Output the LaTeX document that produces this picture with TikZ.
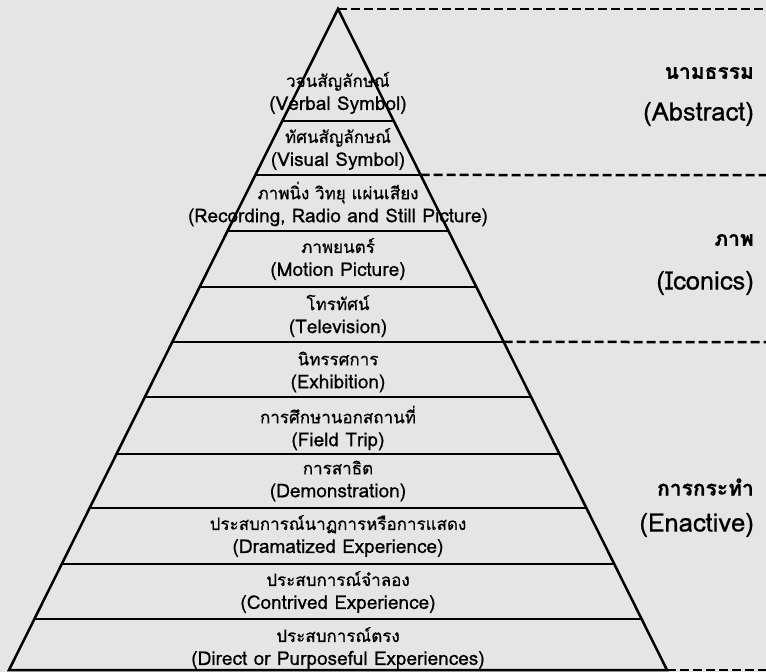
\documentclass[tikz,border=0pt]{standalone}
\usepackage{fontspec}
\setmainfont{Loma}[Script=Thai,FakeBold=0.6]
\usepackage{tikz}
\usetikzlibrary{calc}
\definecolor{paper}{HTML}{E5E5E5}
\newcommand{\eng}[1]{{\fontsize{19}{23}\selectfont #1}}
\newcommand{\engbig}[1]{{\fontsize{25.5}{28}\selectfont #1}}

\begin{document}
\begin{tikzpicture}[
        x=1pt,y=-1pt,
        edge/.style={line width=2.5pt,line join=miter},
        guide/.style={line width=2.5pt,dash pattern=on 9pt off 4pt},
        tier/.style={align=center,inner sep=0pt,font=\fontsize{17}{23}\selectfont},
        side/.style={anchor=east,inner sep=0pt,font=\fontsize{21}{24}\selectfont}
    ]
    \fill[paper] (0,0) rectangle (766,672);
    \useasboundingbox (0,0) rectangle (766,672);
    \coordinate (top) at (338,9);
    \coordinate (bl) at (9,670);
    \coordinate (br) at (667,670);
    \draw[edge] (bl) -- (top) -- (br) -- cycle;
    \foreach \y [count=\i] in {121,175,231,287,342,397,454,508,564,619}{
        \coordinate (L\i) at ($(top)!{(\y-9)/661}!(bl)$);
        \coordinate (R\i) at ($(top)!{(\y-9)/661}!(br)$);
        \draw[edge] (L\i) -- (R\i);
    }
    \coordinate (E0) at (766,9);
    \coordinate (E2) at (766,175);
    \coordinate (E5) at (766,342);
    \coordinate (E10) at (766,670);
    \draw[guide] (top) -- (E0);
    \draw[guide] (R2) -- (E2);
    \draw[guide] (R5) -- (E5);
    \draw[guide] (br) -- (E10);
    \node[tier] (verbal) at (338,93) {วจนสัญลักษณ์\\\eng{(Verbal Symbol)}};
    \node[tier] (visual) at (338,149) {ทัศนสัญลักษณ์\\\eng{(Visual Symbol)}};
    \node[tier] (still) at (338,204) {ภาพนิ่ง วิทยุ แผ่นเสียง\\\eng{(Recording, Radio and Still Picture)}};
    \node[tier] (motion) at (338,259) {ภาพยนตร์\\\eng{(Motion Picture)}};
    \node[tier] (tv) at (338,316) {โทรทัศน์\\\eng{(Television)}};
    \node[tier] (exhibit) at (338,372) {นิทรรศการ\\\eng{(Exhibition)}};
    \node[tier] (trip) at (338,428) {การศึกษานอกสถานที่\\\eng{(Field Trip)}};
    \node[tier] (demo) at (338,481) {การสาธิต\\\eng{(Demonstration)}};
    \node[tier] (drama) at (338,536) {ประสบการณ์นาฏการหรือการแสดง\\\eng{(Dramatized Experience)}};
    \node[tier] (contrived) at (338,592) {ประสบการณ์จำลอง\\\eng{(Contrived Experience)}};
    \node[tier] (direct) at (338,648) {ประสบการณ์ตรง\\\eng{(Direct or Purposeful Experiences)}};
    \node[side] (abstractTh) at (754,73) {\bfseries นามธรรม};
    \node[side] (abstractEn) at (754,114) {\engbig{(Abstract)}};
    \node[side] (iconicTh) at (754,240) {\bfseries ภาพ};
    \node[side] (iconicEn) at (754,283) {\engbig{(Iconics)}};
    \node[side] (enactTh) at (754,487) {\bfseries การกระทำ};
    \node[side] (enactEn) at (754,525) {\engbig{(Enactive)}};
\end{tikzpicture}
\end{document}
